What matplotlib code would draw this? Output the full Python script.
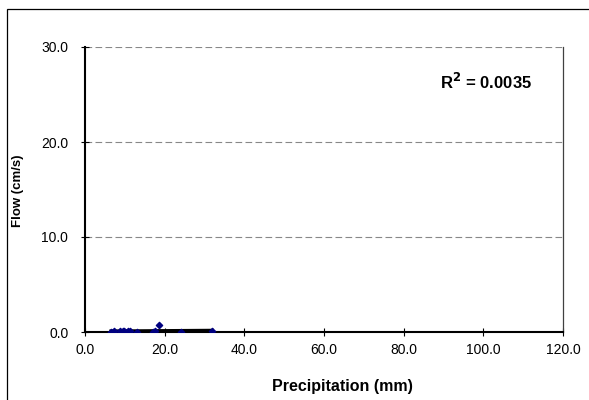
import numpy as np
import matplotlib
matplotlib.use('Agg')
from matplotlib import pyplot as plt
from matplotlib.patches import Rectangle

plt.rcParams['font.family'] = ['Liberation Sans', 'DejaVu Sans']

# precipitation (mm) vs flow (cm/s)
precip = [6.5, 7.2, 8.9, 9.6, 9.9, 10.7, 11.3, 13.0, 17.0, 17.6, 18.5, 24.0, 32.0]
flow = [0.05, 0.12, 0.1, 0.15, 0.08, 0.12, 0.1, 0.05, 0.04, 0.06, 0.7, 0.05, 0.1]
x_ticks = [0, 20, 40, 60, 80, 100, 120]
y_ticks = [0, 10, 20, 30]
r2_label = 'R$^\\mathbf{2}$ = 0.0035'

W, H = 589, 400
fig = plt.figure(figsize=(W / 100, H / 100), dpi=100)
ax = fig.add_axes([85 / W, 68 / H, 478 / W, 285 / H])

# outer chart border
fig.patches.append(Rectangle((7 / W, -0.01), 1.0, 1 - 9 / H + 0.01, transform=fig.transFigure,
                             fill=False, edgecolor='black', linewidth=0.9))

ax.scatter(precip, flow, marker='D', s=10, color='#000080', zorder=3)
slope, intercept = np.polyfit(precip, flow, 1)
xs = np.array([min(precip), max(precip)])
ax.plot(xs, slope * xs + intercept, color='black', linewidth=2.2, zorder=2)

ax.set_xlim(0, 120)
ax.set_ylim(0, 30)
ax.set_xticks(x_ticks)
ax.set_yticks(y_ticks)
ax.set_xticklabels([f'{v:.1f}' for v in x_ticks])
ax.set_yticklabels([f'{v:.1f}' for v in y_ticks])
ax.tick_params(axis='x', labelsize=10, direction='inout', length=6, width=0.8, pad=5)
ax.tick_params(axis='y', labelsize=10, direction='inout', length=6, width=0.8, pad=9)

ax.yaxis.grid(True, color='#888888', linestyle=(0, (6, 3)), linewidth=0.8)
ax.set_axisbelow(True)
ax.spines['top'].set_visible(False)
ax.spines['right'].set_color('#404040')
ax.spines['right'].set_linewidth(0.9)
ax.spines['left'].set_linewidth(1.5)
ax.spines['bottom'].set_linewidth(1.5)

fig.text(342 / W, 1 - 387 / H, 'Precipitation (mm)', ha='center', va='center',
         fontsize=11.5, fontweight='bold')
fig.text(18 / W, 1 - 191 / H, 'Flow (cm/s)', ha='center', va='center', rotation=90,
         fontsize=9.5, fontweight='bold')
fig.text(532 / W, 1 - 82 / H, r2_label, ha='right', va='center',
         fontsize=12, fontweight='bold')

plt.savefig('out.png', dpi=100)
